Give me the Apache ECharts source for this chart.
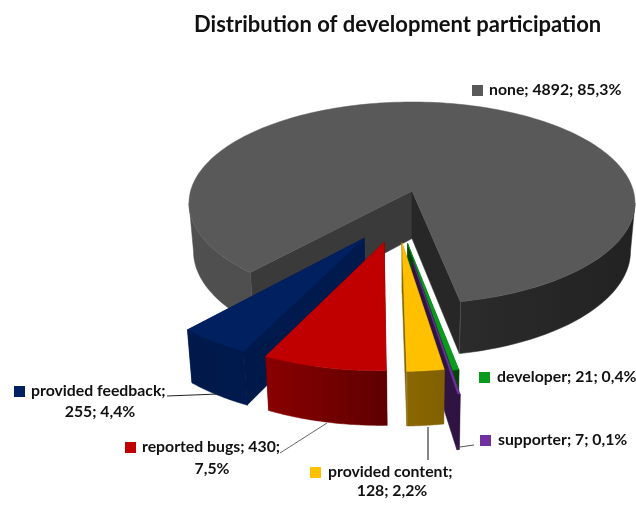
<!DOCTYPE html>
<html><head><meta charset="utf-8">
<style>html,body{margin:0;padding:0;background:#fff}#c{width:636px;height:505px}</style>
<script src="https://cdn.jsdelivr.net/npm/echarts@6/dist/echarts.min.js"></script>
</head><body><div id="c"></div>
<script>
const titleText = 'Distribution of development participation';
const categories = ['none', 'developer', 'supporter', 'provided content', 'reported bugs', 'provided feedback'];
const values = [4892, 21, 7, 128, 430, 255];
const percentLabels = ['85,3%', '0,4%', '0,1%', '2,2%', '7,5%', '4,4%'];
const explosions = [0.25, 0.26, 0.42, 0.25, 0.25, 0.25];
const topColors = ['#595959', '#0a9a1c', '#7030a0', '#ffc000', '#c00000', '#002060'];
const paintOrder = [0, 5, 1, 2, 3, 4];

// scene set-up
const firstAngle = 221.7;
const total = values.reduce((a, b) => a + b, 0);
const rad = d => d * Math.PI / 180;
const dir = t => [Math.sin(rad(t)), -Math.cos(rad(t))];
const span = i => values[i] / total * 360;
const startOf = i => firstAngle + values.slice(0, i).reduce((a, b) => a + b, 0) / total * 360;
const noneDir = dir(startOf(0) + span(0) / 2);
const origin = [-explosions[0] * noneDir[0], -explosions[0] * noneDir[1]];
// perspective projection of the pie plane
const project = (u, v) => {
  const w = 1 - 0.1188 * v;
  return [412 + 221.4 * u / w, (191 + 76.9 * v) / w];
};
const drop = p => [p[0] + (412 - p[0]) * 0.02, p[1] + 52 + (p[1] - 302) * 0.04];
const shade = (hex, f) => {
  const n = parseInt(hex.slice(1), 16);
  const c = [n >> 16, (n >> 8) & 255, n & 255].map(x => Math.round(x * f));
  return `rgb(${c.join(',')})`;
};
// radial wall brightness [start side, end side], and round-wall brightness ramps [fromAngle, toAngle, fromLight, toLight]
const radialLight = [[0.65, 0.44], [0.6, 0.45], [0.42, 0.42], [0.5, 0.52], [0.6, 0.6], [0.78, 0.8]];
const roundRamps = [
  [[221.7, 263.2, 0.88, 0.9], [96.8, 168.8, 0.38, 0.48]],
  [[168.8, 170.1, 0.45, 0.45]],
  [[170.1, 170.6, 0.42, 0.42]],
  [[170.6, 178.6, 0.5, 0.54]],
  [[178.6, 205.6, 0.49, 0.72]],
  [[205.6, 221.7, 0.8, 0.78]]
];

function renderItem(params, api) {
  const i = api.value(0), start = api.value(1), sweep = api.value(2);
  const order = params.dataIndex * 10;
  const color = topColors[i], d = dir(start + sweep / 2), e = explosions[i];
  const apexUV = [origin[0] + e * d[0], origin[1] + e * d[1]];
  const rim = t => { const q = dir(t); return project(apexUV[0] + q[0], apexUV[1] + q[1]); };
  const apex = project(apexUV[0], apexUV[1]);
  const kids = [];
  const poly = (points, fill, z2) => kids.push({
    type: 'polygon', z2: order + z2, shape: { points },
    style: { fill, stroke: fill, lineWidth: 0.5 }
  });
  const a0 = rim(start), a1 = rim(start + sweep);
  poly([apex, a0, drop(a0), drop(apex)], shade(color, radialLight[i][0]), 1);
  poly([apex, a1, drop(a1), drop(apex)], shade(color, radialLight[i][1]), 1);
  // round outer wall: one gradient polygon per visible stretch
  roundRamps[i].forEach(r => {
    const f = r[0], t = r[1];
    const pts = [], low = [];
    for (let k = 0; k <= 48; k++) {
      const p = rim(f + (t - f) * k / 48);
      pts.push(p); low.unshift(drop(p));
    }
    const pa = pts[0], pb = pts[48];
    const x0 = Math.abs(pa[0] - pb[0]) < 0.5 ? pa[0] - 1 : pa[0];
    const g = new echarts.graphic.LinearGradient(x0, 0, pb[0], 0, [
      { offset: 0, color: shade(color, r[2]) }, { offset: 1, color: shade(color, r[3]) }
    ], true);
    poly(pts.concat(low), g, 2);
  });
  // top face
  const top = [apex];
  const tSteps = Math.max(2, Math.ceil(sweep / 1.5));
  for (let k = 0; k <= tSteps; k++) top.push(rim(start + sweep * k / tSteps));
  poly(top, color, 3);
  return { type: 'group', children: kids };
}

const seriesData = paintOrder.map(i => [i, startOf(i), span(i)]);
const labelText = i => `${categories[i]}; ${values[i]}; ${percentLabels[i]}`;

const F = '"Lato", "Noto Sans", sans-serif';
const labelGraphics = [];
const label = (i, sx, sy, lines) => {
  labelGraphics.push({ type: 'rect', shape: { x: sx, y: sy, width: 11, height: 11 }, style: { fill: topColors[i] }, z: 10 });
  lines.forEach(l => labelGraphics.push({
    type: 'text', x: l[1], y: l[2], z: 10,
    style: { text: l[0], font: `bold 15.8px ${F}`, fill: '#111', textAlign: l[3] || 'left', textVerticalAlign: 'middle' }
  }));
};
const lead = (pts, stroke) => labelGraphics.push({ type: 'polyline', shape: { points: pts }, z: 9, style: { stroke, lineWidth: 1, fill: null } });

label(0, 472, 85, [[labelText(0), 489, 90]]);
label(1, 479, 372, [[labelText(1), 497, 377]]);
label(2, 480, 435, [[labelText(2), 498, 440]]);
label(3, 310, 467, [[`${categories[3]};`, 328, 472], [`${values[3]}; ${percentLabels[3]}`, 392, 491, 'center']]);
label(4, 125, 442, [[`${categories[4]}; ${values[4]};`, 142, 447], [percentLabels[4], 212, 469, 'center']]);
label(5, 14, 386, [[`${categories[5]};`, 31, 391], [`${values[5]}; ${percentLabels[5]}`, 100, 412, 'center']]);
lead([[167, 396], [218, 394]], '#222');
lead([[280, 453], [327, 423]], '#666');
lead([[428, 427], [428, 460]], '#111');
lead([[460, 447], [474, 445]], '#555');

const chart = echarts.init(document.getElementById('c'), null, { renderer: 'canvas' });
chart.setOption({
  animation: false,
  backgroundColor: '#fff',
  title: { text: titleText, left: 189, top: 9, textStyle: { fontFamily: F, fontWeight: 'bold', fontSize: 22, color: '#111' } },
  series: [{
    type: 'custom', coordinateSystem: 'none', renderItem,
    data: seriesData, dimensions: ['slice', 'start', 'sweep'], silent: true
  }],
  graphic: labelGraphics
});
</script></body></html>
